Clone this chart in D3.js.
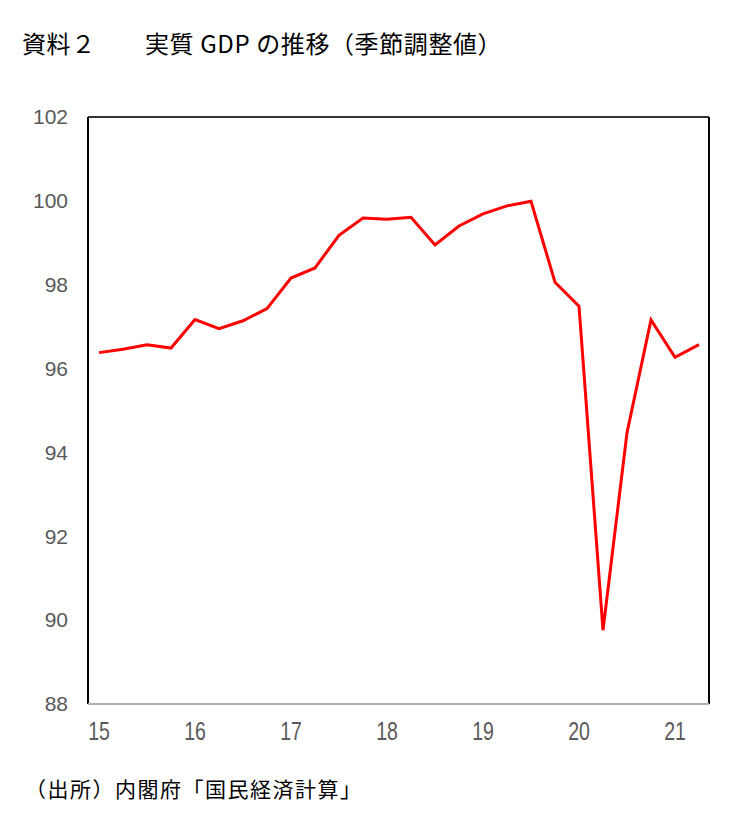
<!DOCTYPE html>
<html>
<head>
<meta charset="utf-8">
<script src="https://cdn.jsdelivr.net/npm/d3@7"></script>
<style>
  body { margin: 0; background: #fff; }
  .title { font-family: "Noto Sans CJK JP", sans-serif; font-size: 24px; letter-spacing: 0.6px; fill: #000; }
  .source { font-family: "Noto Sans CJK JP", sans-serif; font-size: 21px; letter-spacing: 1.5px; fill: #000; }
  .ytick { font-family: "Liberation Sans", Arial, sans-serif; font-size: 21px; fill: #595959; }
  .xtick { font-family: "Liberation Sans", Arial, sans-serif; font-size: 25px; fill: #595959; }
</style>
</head>
<body>
<div id="chart"></div>
<script>
// 実質GDP（季節調整値）四半期, 2015Q1 - 2021Q2
let quarters = d3.range(26).map(i => 15 + i / 4)
let gdp = [96.38, 96.46, 96.57, 96.49,
           97.17, 96.95, 97.14, 97.43,
           98.16, 98.40, 99.18, 99.59,
           99.56, 99.61, 98.95, 99.40,
           99.69, 99.88, 99.99, 98.06,
           97.49, 89.76, 94.47, 97.16,
           96.27, 96.57]
let xTicks = [15, 16, 17, 18, 19, 20, 21]
let yTicks = [88, 90, 92, 94, 96, 98, 100, 102]

function drawChart() {
    let svgWidth = 729
    let svgHeight = 825
    let plot = { left: 88, right: 709, top: 117, bottom: 704 }

    let svg = d3.select('#chart').append('svg')
        .attr('width', svgWidth)
        .attr('height', svgHeight)

    let x = d3.scaleLinear()
        .domain([15, 15 + (plot.right - plot.left - 11) / 96])
        .range([plot.left + 11, plot.right])
    let y = d3.scaleLinear()
        .domain([88, 102])
        .range([plot.bottom, plot.top])

    svg.append('text')
        .attr('class', 'title')
        .attr('x', 22)
        .attr('y', 53)
        .text('資料２　　実質 GDP の推移（季節調整値）')

    // frame
    svg.append('line')
        .attr('x1', plot.left).attr('x2', plot.right)
        .attr('y1', plot.top).attr('y2', plot.top)
        .attr('stroke', '#333').attr('stroke-width', 2)
    svg.append('line')
        .attr('x1', plot.right).attr('x2', plot.right)
        .attr('y1', plot.top).attr('y2', plot.bottom)
        .attr('stroke', '#000').attr('stroke-width', 2)
    svg.append('line')
        .attr('x1', plot.left).attr('x2', plot.left)
        .attr('y1', plot.top).attr('y2', plot.bottom)
        .attr('stroke', '#000').attr('stroke-width', 2)
    svg.append('line')
        .attr('x1', plot.left).attr('x2', plot.right)
        .attr('y1', plot.bottom).attr('y2', plot.bottom)
        .attr('stroke', '#b0b0b0').attr('stroke-width', 2)

    svg.append('g')
        .selectAll('text')
        .data(yTicks)
        .enter()
        .append('text')
        .attr('class', 'ytick')
        .attr('x', plot.left - 20)
        .attr('y', d => y(d))
        .attr('dy', '0.35em')
        .attr('text-anchor', 'end')
        .text(d => d)

    // condensed year labels
    svg.append('g')
        .selectAll('text')
        .data(xTicks)
        .enter()
        .append('text')
        .attr('class', 'xtick')
        .attr('transform', d => `translate(${x(d)}, ${plot.bottom + 36}) scale(0.78, 1)`)
        .attr('text-anchor', 'middle')
        .text(d => d)

    let line = d3.line()
        .x((d, i) => x(quarters[i]))
        .y(d => y(d))

    svg.append('path')
        .datum(gdp)
        .attr('d', line)
        .attr('fill', 'none')
        .attr('stroke', '#ff0000')
        .attr('stroke-width', 3)
        .attr('stroke-linejoin', 'miter')

    svg.append('text')
        .attr('class', 'source')
        .attr('x', 25)
        .attr('y', 797)
        .text('（出所）内閣府「国民経済計算」')
}

drawChart()
</script>
</body>
</html>
